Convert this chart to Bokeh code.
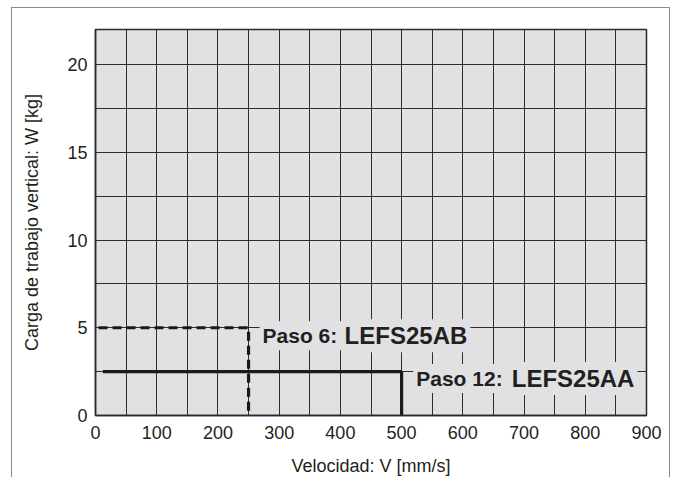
from bokeh.plotting import figure
from bokeh.models import FixedTicker, Label, Range1d
from bokeh.embed import file_html
from bokeh.resources import INLINE

# ---- data ----
x_ticks = [0, 100, 200, 300, 400, 500, 600, 700, 800, 900]
y_ticks = [0, 5, 10, 15, 20]
x_grid = [0, 50, 100, 150, 200, 250, 300, 350, 400, 450, 500, 550, 600, 650, 700, 750, 800, 850, 900]
y_grid = [0, 2.5, 5, 7.5, 10, 12.5, 15, 17.5, 20, 22]

step6_speed = [5, 250, 250]
step6_load = [5, 5, 0]
step12_speed = [12, 500, 500]
step12_load = [2.5, 2.5, 0]

lbl6_prefix, lbl6_model = "Paso 6: ", "LEFS25AB"
lbl12_prefix, lbl12_model = "Paso 12: ", "LEFS25AA"

FONT = "Liberation Sans"
INK = "#231f20"
BG = "#e1e1e3"

p = figure(width=659, height=470, output_backend="svg", toolbar_location=None,
           x_range=Range1d(0, 900), y_range=Range1d(0, 22),
           min_border_left=83, min_border_right=25, min_border_top=21, min_border_bottom=62)

p.background_fill_color = BG
p.border_fill_color = "white"
p.outline_line_color = "#2a2a2a"
p.outline_line_width = 1.5

p.styles = {"margin-left": "11px", "margin-top": "7px",
            "border-top": "1.5px solid #8a8a8a", "border-left": "1.5px solid #8a8a8a",
            "border-right": "1.5px solid #8a8a8a"}

p.xaxis.ticker = FixedTicker(ticks=x_ticks)
p.yaxis.ticker = FixedTicker(ticks=y_ticks)
p.xgrid.ticker = FixedTicker(ticks=x_grid)
p.ygrid.ticker = FixedTicker(ticks=y_grid)
for g in (p.xgrid, p.ygrid):
    g.grid_line_color = "#2e2e2e"
    g.grid_line_width = 1
    g.grid_line_alpha = 1

for ax in (p.xaxis, p.yaxis):
    ax.major_tick_in = 0
    ax.major_tick_out = 0
    ax.minor_tick_in = 0
    ax.minor_tick_out = 0
    ax.axis_line_color = "#2a2a2a"
    ax.axis_line_width = 1.5
    ax.major_label_text_font = FONT
    ax.major_label_text_font_size = "18px"
    ax.major_label_text_color = INK
    ax.axis_label_text_font = FONT
    ax.axis_label_text_font_size = "18px"
    ax.axis_label_text_font_style = "normal"
    ax.axis_label_text_color = INK

p.xaxis.axis_label = "Velocidad: V [mm/s]"
p.yaxis.axis_label = "Carga de trabajo vertical: W [kg]"
p.xaxis.major_label_standoff = 10
p.xaxis.axis_label_standoff = 14
p.yaxis.major_label_standoff = 8
p.yaxis.axis_label_standoff = 22

p.line(step6_speed, step6_load, line_color="#1a1a1a", line_width=3.2, line_dash="9 5")
p.line(step12_speed, step12_load, line_color="#1a1a1a", line_width=3.2)

def add_label(x, y, text, size):
    p.add_layout(Label(x=x, y=y, text=text, text_font=FONT, text_font_size=size,
                       text_font_style="bold", text_color=INK, text_baseline="alphabetic",
                       text_align="left", background_fill_color=BG, background_fill_alpha=1.0,
                       padding=3))

add_label(268, 4.55, lbl6_prefix, "21px")
add_label(402, 4.55, lbl6_model, "24px")
add_label(519, 2.11, lbl12_prefix, "21px")
add_label(675, 2.11, lbl12_model, "24px")

open("out.html", "w").write(file_html(p, INLINE))
